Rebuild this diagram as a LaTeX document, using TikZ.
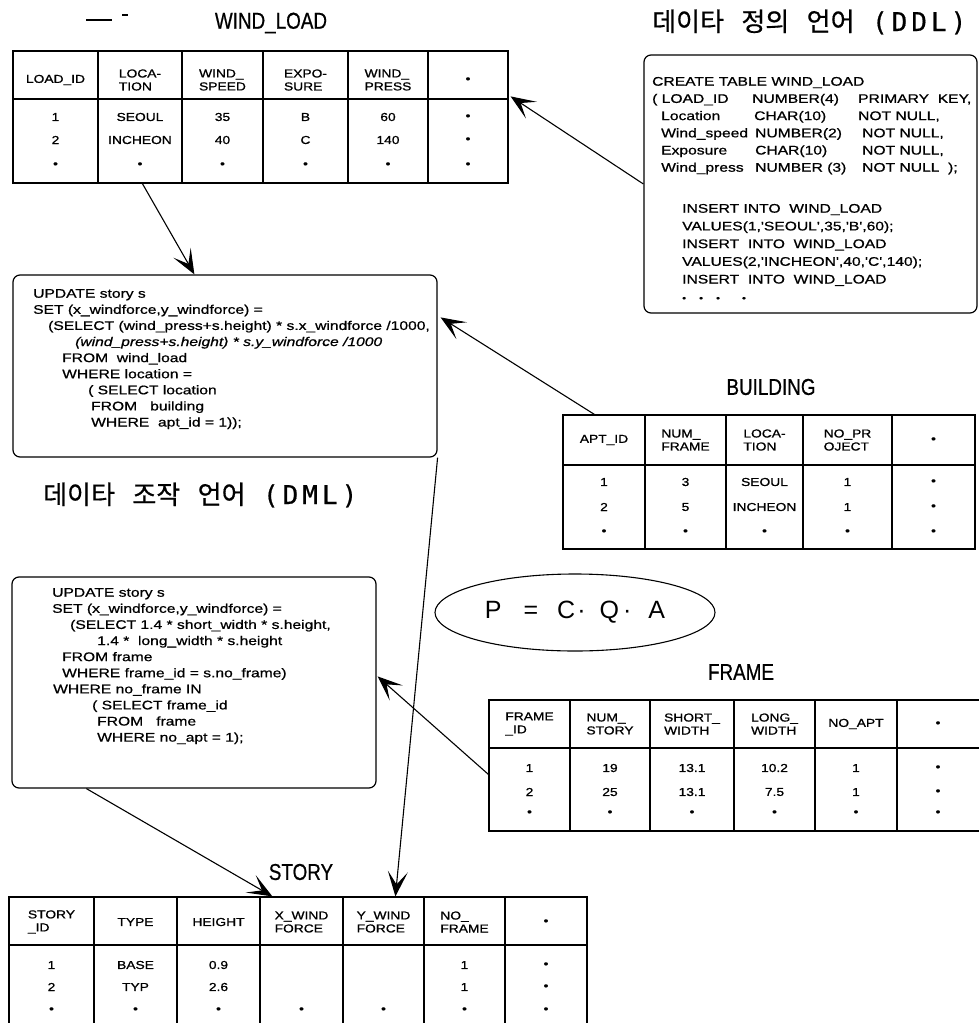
\documentclass[tikz,border=0pt]{standalone}
\usepackage{fontspec}
\setmainfont{Liberation Sans}
\newfontfamily\cellfont[FakeStretch=1.2,FakeBold=1]{Liberation Sans}
\newfontfamily\codefont[FakeStretch=1.25,FakeBold=0.8]{Liberation Sans}
\newfontfamily\titlefont[FakeStretch=0.82,FakeBold=0.6]{Liberation Sans}
\newfontfamily\krfont[WordSpace=3,FakeBold=0.6]{Noto Sans CJK KR}
\newfontfamily\latmono[FakeBold=0.6]{DejaVu Sans Mono}
\usetikzlibrary{arrows.meta,shapes.geometric,calc}

\tikzset{
  tline/.style={line width=1.2pt},
  tframe/.style={draw, line width=1.2pt, rectangle, inner sep=0pt},
  hd/.style={font=\cellfont\fontsize{11.5}{13}\selectfont, align=left, inner sep=0pt},
  cl/.style={font=\cellfont\fontsize{11.5}{12}\selectfont, inner sep=0pt},
  codebox/.style={draw, line width=1.2pt, rounded corners=7pt, inner sep=0pt},
  code/.style={font=\codefont\fontsize{12.5}{16.1}\selectfont, align=left, inner sep=0pt, anchor=north west},
  ttl/.style={font=\titlefont\fontsize{23}{23}\selectfont, inner sep=0pt},
  kr/.style={font=\krfont\fontsize{26}{26}\selectfont, inner sep=0pt, anchor=west},
  arr/.style={line width=1.1pt, -{Stealth[length=25pt,width=20pt,inset=13pt]}},
}

\begin{document}
\begin{tikzpicture}[x=1pt,y=-1pt]
\useasboundingbox (0,0) rectangle (978,1023);
\fill[white] (0,0) rectangle (978,1023);

% ---------- titles ----------
\draw[line width=2.5pt] (86,20) -- (112,20);
\draw[line width=1.2pt] (122,15) -- (128,15);
\node[ttl] (t-wl) at (271,23) {WIND\_LOAD};
\node[ttl] (t-bld) at (771,387) {BUILDING};
\node[ttl] (t-frm) at (741,672) {FRAME};
\node[ttl] (t-st) at (301,872) {STORY};
\node[kr] (t-ddl) at (652,22) {데이타 정의 언어 {\latmono (\kern4pt D\kern4pt D\kern4pt L\kern4pt)}};
\node[kr] (t-dml) at (43,495) {데이타 조작 언어 {\latmono (\kern4pt D\kern4pt M\kern4pt L\kern4pt)}};

% ---------- WIND_LOAD table ----------
\node[tframe, minimum width=495pt, minimum height=132pt] (wl) at (260.5,117) {};
\draw[tline] (13,99) -- (508,99);
\foreach \x in {98,182,263,348,428} \draw[tline] (\x,51) -- (\x,183);
\foreach \xa/\xb/\hh/\ra/\rb/\rc [count=\i] in {
  13/98/{LOAD\_ID}/1/2/•,
  98/182/{LOCA-\\TION}/SEOUL/INCHEON/•,
  182/263/{WIND\_\\SPEED}/35/40/•,
  263/348/{EXPO-\\SURE}/B/C/•,
  348/428/{WIND\_\\PRESS}/60/140/•,
  428/508/•/•/•/•}
{
  \node[hd] (wl-h\i) at ({(\xa+\xb)/2},80) {\hh};
  \node[cl] (wl-a\i) at ({(\xa+\xb)/2},117) {\ra};
  \node[cl] (wl-b\i) at ({(\xa+\xb)/2},140) {\rb};
  \node[cl] (wl-c\i) at ({(\xa+\xb)/2},165) {\rc};
}

% ---------- BUILDING table ----------
\node[tframe, minimum width=412pt, minimum height=134pt] (bld) at (769,482) {};
\draw[tline] (563,465) -- (975,465);
\foreach \x in {645,726,803,892} \draw[tline] (\x,415) -- (\x,549);
\foreach \xa/\xb/\hh/\ra/\rb/\rc [count=\i] in {
  563/645/{APT\_ID}/1/2/•,
  645/726/{NUM\_\\FRAME}/3/5/•,
  726/803/{LOCA-\\TION}/SEOUL/INCHEON/•,
  803/892/{NO\_PR\\OJECT}/1/1/•,
  892/975/•/•/•/•}
{
  \node[hd] (bld-h\i) at ({(\xa+\xb)/2},440) {\hh};
  \node[cl] (bld-a\i) at ({(\xa+\xb)/2},482) {\ra};
  \node[cl] (bld-b\i) at ({(\xa+\xb)/2},507) {\rb};
  \node[cl] (bld-c\i) at ({(\xa+\xb)/2},532) {\rc};
}

% ---------- FRAME table ----------
\node[tframe, minimum width=497pt, minimum height=131pt] (frm) at (737.5,765.5) {};
\draw[tline] (489,748) -- (986,748);
\foreach \x in {570,650,734,815,897} \draw[tline] (\x,700) -- (\x,831);
\foreach \xa/\xb/\hh/\ra/\rb/\rc [count=\i] in {
  489/570/{FRAME\\\_ID}/1/2/•,
  570/650/{NUM\_\\STORY}/19/25/•,
  650/734/{SHORT\_\\WIDTH}/13.1/13.1/•,
  734/815/{LONG\_\\WIDTH}/10.2/7.5/•,
  815/897/{NO\_APT}/1/1/•,
  897/979/•/•/•/•}
{
  \node[hd] (frm-h\i) at ({(\xa+\xb)/2},724) {\hh};
  \node[cl] (frm-a\i) at ({(\xa+\xb)/2},768) {\ra};
  \node[cl] (frm-b\i) at ({(\xa+\xb)/2},792) {\rb};
  \node[cl] (frm-c\i) at ({(\xa+\xb)/2},813) {\rc};
}

% ---------- STORY table ----------
\node[tframe, minimum width=578pt, minimum height=143pt] (story) at (298,968.5) {};
\draw[tline] (9,945) -- (587,945);
\foreach \x in {94,177,260,343,424,505} \draw[tline] (\x,897) -- (\x,1040);
\foreach \xa/\xb/\hh/\ra/\rb/\rc [count=\i] in {
  9/94/{STORY\\\_ID}/1/2/•,
  94/177/{TYPE}/BASE/TYP/•,
  177/260/{HEIGHT}/0.9/2.6/•,
  260/343/{X\_WIND\\FORCE}/{}/{}/•,
  343/424/{Y\_WIND\\FORCE}/{}/{}/•,
  424/505/{NO\_\\FRAME}/1/1/•,
  505/587/•/•/•/•}
{
  \node[hd] (st-h\i) at ({(\xa+\xb)/2},922) {\hh};
  \node[cl] (st-a\i) at ({(\xa+\xb)/2},965) {\ra};
  \node[cl] (st-b\i) at ({(\xa+\xb)/2},987) {\rb};
  \node[cl] (st-c\i) at ({(\xa+\xb)/2},1010) {\rc};
}

% ---------- DDL box ----------
\node[codebox, minimum width=333pt, minimum height=258pt] (ddl) at (810.5,184) {};
\node[code, font=\codefont\fontsize{12.5}{17.2}\selectfont] (ddl-def) at (652,75.5) {%
\rule{0pt}{10pt}CREATE TABLE WIND\_LOAD\\
\makebox[100pt][l]{( LOAD\_ID}\makebox[106pt][l]{NUMBER(4)}PRIMARY~ KEY,\\
\hspace*{9pt}\makebox[93pt][l]{Location}\makebox[104pt][l]{CHAR(10)}NOT NULL,\\
\hspace*{9pt}\makebox[94pt][l]{Wind\_speed}\makebox[107pt][l]{NUMBER(2)}NOT NULL,\\
\hspace*{9pt}\makebox[94pt][l]{Exposure}\makebox[107pt][l]{CHAR(10)}NOT NULL,\\
\hspace*{9pt}\makebox[94pt][l]{Wind\_press}\makebox[107pt][l]{NUMBER (3)}NOT NULL~ );};
\node[code, font=\codefont\fontsize{12.5}{17.7}\selectfont] (ddl-ins) at (682,202.5) {%
\rule{0pt}{10pt}INSERT INTO~ WIND\_LOAD\\
VALUES(1,'SEOUL',35,'B',60);\\
INSERT~ INTO~ WIND\_LOAD\\
VALUES(2,'INCHEON',40,'C',140);\\
INSERT~ INTO~ WIND\_LOAD\\
{\fontsize{9}{9}\selectfont •\hspace{13pt}•\hspace{13pt}•\hspace{22pt}•}};

% ---------- UPDATE box (wind_load) ----------
\node[codebox, minimum width=424pt, minimum height=182pt] (upd) at (225,366) {};
\node[code] (upd-code) at (33,287.5) {%
\rule{0pt}{10pt}UPDATE story s\\
SET (x\_windforce,y\_windforce) =\\
\hspace*{15pt}(SELECT (wind\_press+s.height) * s.x\_windforce /1000,\\
\hspace*{42pt}\textit{(wind\_press+s.height) * s.y\_windforce /1000}\\
\hspace*{29pt}FROM~ wind\_load\\
\hspace*{29pt}WHERE location =\\
\hspace*{55pt}( SELECT location\\
\hspace*{58pt}FROM~~ building\\
\hspace*{58pt}WHERE~ apt\_id = 1));};

% ---------- UPDATE box (frame) ----------
\node[codebox, minimum width=364pt, minimum height=211pt] (dml) at (194,682.5) {};
\node[code] (dml-code) at (52,586.5) {%
\rule{0pt}{10pt}UPDATE story s\\
SET (x\_windforce,y\_windforce) =\\
\hspace*{18pt}(SELECT 1.4 * short\_width * s.height,\\
\hspace*{45pt}1.4 *~ long\_width * s.height\\
\hspace*{10pt}FROM frame\\
\hspace*{10pt}WHERE frame\_id = s.no\_frame)\\
\hspace*{1pt}WHERE no\_frame IN\\
\hspace*{40pt}( SELECT frame\_id\\
\hspace*{45pt}FROM~~ frame\\
\hspace*{45pt}WHERE no\_apt = 1);};

% ---------- formula ----------
\node[draw, ellipse, line width=1.1pt, minimum width=280pt, minimum height=77pt, inner sep=0pt,
      font=\fontsize{25}{25}\selectfont] (eq) at (575,612.5)
  {P\hspace{22pt}=\hspace{19pt}C\hspace{2pt}·\hspace{14pt}Q\hspace{4pt}·\hspace{17pt}A};

% ---------- connectors ----------
\draw[arr] (ddl.west) -- ($(wl.north east)+(2,46)$);
\draw[arr] ($(wl.south west)+(130,0)$) -- ($(upd.north west)+(182,0)$);
\draw[arr] ($(bld.north west)+(32,0)$) -- ($(upd.north east)+(3,43)$);
\draw[arr] (upd.south east) -- ($(story.north west)+(387,0)$);
\draw[arr] ($(frm.north west)+(0,75)$) -- ($(dml.north east)+(1,100)$);
\draw[arr] ($(dml.south west)+(75,0)$) -- ($(story.north west)+(264,0)$);
\end{tikzpicture}
\end{document}
